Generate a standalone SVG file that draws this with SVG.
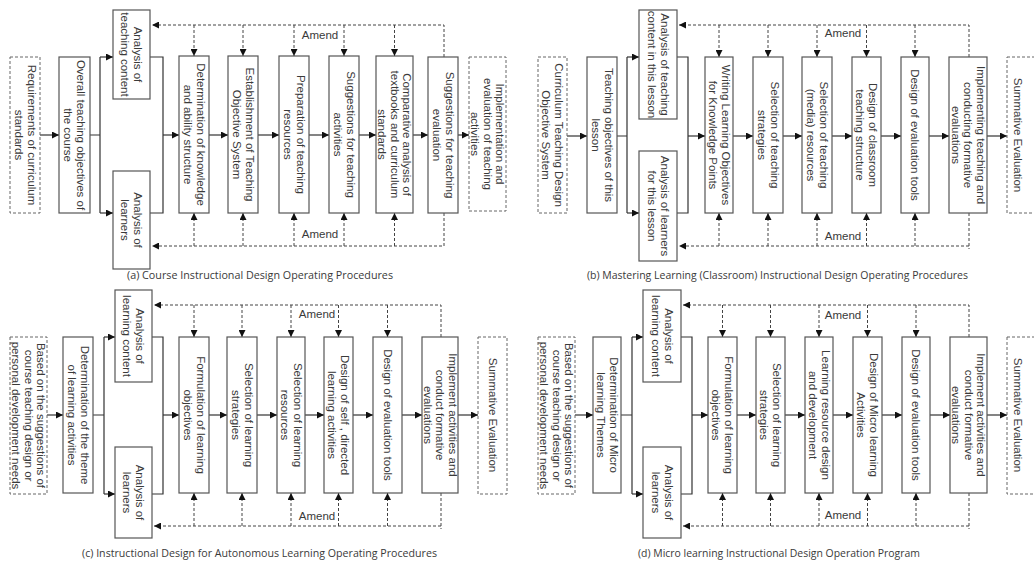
<svg xmlns="http://www.w3.org/2000/svg" width="1034" height="563" viewBox="0 0 1034 563">
  <style>
    .box { fill: #fff; stroke: #555; stroke-width: 1.2; }
    .dbox { fill: #fff; stroke: #666; stroke-width: 1; stroke-dasharray: 3 2; }
    .t { font-family: "Liberation Sans", Arial, sans-serif; font-size: 11.5px; fill: #3a3a3a; text-anchor: middle; }
    .amend { font-family: "Liberation Sans", Arial, sans-serif; font-size: 11.5px; fill: #3a3a3a; text-anchor: middle; }
    .cap { font-family: "Open Sans", "Noto Sans", sans-serif; font-size: 11.5px; fill: #3a3a3a; }
    .solid { fill: none; stroke: #333; stroke-width: 1.2; }
    .dash { fill: none; stroke: #444; stroke-width: 1; stroke-dasharray: 3 2; }
  </style>
  <defs>
    <marker id="ah" viewBox="0 0 8 8" refX="8" refY="4" markerWidth="8" markerHeight="7" markerUnits="userSpaceOnUse" orient="auto">
      <path d="M0,0 L8,4 L0,8 z" fill="#111"/>
    </marker>
  </defs>
  <rect width="1034" height="563" fill="#fff"/>

  <!-- ===== (a) course instructional design ===== -->
  <g id="panel-a">
    <g id="a-connectors">
      <path class="solid" d="M40,135 H59" marker-end="url(#ah)"/>
      <path class="solid" d="M90,135 H100 M100,57 V213"/>
      <path class="solid" d="M100,57 H113" marker-end="url(#ah)"/>
      <path class="solid" d="M100,213 H113" marker-end="url(#ah)"/>
      <path class="solid" d="M150,57 H163 V213 H150"/>
      <path class="solid" d="M163,135 H179" marker-end="url(#ah)"/>
      <path class="solid" d="M209,135 H228" marker-end="url(#ah)"/>
      <path class="solid" d="M258,135 H279" marker-end="url(#ah)"/>
      <path class="solid" d="M309,135 H329" marker-end="url(#ah)"/>
      <path class="solid" d="M359,135 H376" marker-end="url(#ah)"/>
      <path class="solid" d="M413,135 H428" marker-end="url(#ah)"/>
      <path class="solid" d="M458,135 H469" marker-end="url(#ah)"/>
      <path class="dash" d="M444,57 V25 H152" marker-end="url(#ah)"/>
      <path class="dash" d="M194,25 V56" marker-end="url(#ah)"/>
      <path class="dash" d="M243,25 V56" marker-end="url(#ah)"/>
      <path class="dash" d="M294,25 V56" marker-end="url(#ah)"/>
      <path class="dash" d="M344,25 V56" marker-end="url(#ah)"/>
      <path class="dash" d="M394.5,25 V56" marker-end="url(#ah)"/>
      <path class="dash" d="M444,213 V246 H152" marker-end="url(#ah)"/>
      <path class="dash" d="M194,246 V213" marker-end="url(#ah)"/>
      <path class="dash" d="M243,246 V213" marker-end="url(#ah)"/>
      <path class="dash" d="M294,246 V213" marker-end="url(#ah)"/>
      <path class="dash" d="M344,246 V213" marker-end="url(#ah)"/>
      <path class="dash" d="M394.5,246 V213" marker-end="url(#ah)"/>
      <text class="amend" x="320" y="39">Amend</text>
      <text class="amend" x="320" y="238">Amend</text>
    </g>
    <g id="a-requirements">
      <rect class="dbox" x="10" y="57" width="30" height="156"/>
      <text class="t" transform="translate(25 135) rotate(90)"><tspan x="0" y="-2.5">Requirements of curriculum</tspan><tspan x="0" y="10.5">standards</tspan></text>
    </g>
    <g id="a-overall">
      <rect class="box" x="59" y="57" width="31" height="156"/>
      <text class="t" transform="translate(74.5 135) rotate(90)"><tspan x="0" y="-2.5">Overall teaching objectives of</tspan><tspan x="0" y="10.5">the course</tspan></text>
    </g>
    <g id="a-content">
      <rect class="box" x="113" y="10" width="37" height="89"/>
      <text class="t" transform="translate(131.5 54.5) rotate(90)"><tspan x="0" y="-2.5">Analysis of</tspan><tspan x="0" y="10.5">teaching content</tspan></text>
    </g>
    <g id="a-learners">
      <rect class="box" x="113" y="171" width="37" height="98"/>
      <text class="t" transform="translate(131.5 220) rotate(90)"><tspan x="0" y="-2.5">Analysis of</tspan><tspan x="0" y="10.5">learners</tspan></text>
    </g>
    <g id="a-structure">
      <rect class="box" x="179" y="56" width="30" height="157"/>
      <text class="t" transform="translate(194 134.5) rotate(90)"><tspan x="0" y="-2.5">Determination of knowledge</tspan><tspan x="0" y="10.5">and ability structure</tspan></text>
    </g>
    <g id="a-objective-system">
      <rect class="box" x="228" y="56" width="30" height="157"/>
      <text class="t" transform="translate(243 134.5) rotate(90)"><tspan x="0" y="-2.5">Establishment of Teaching</tspan><tspan x="0" y="10.5">Objective System</tspan></text>
    </g>
    <g id="a-resources">
      <rect class="box" x="279" y="56" width="30" height="157"/>
      <text class="t" transform="translate(294 134.5) rotate(90)"><tspan x="0" y="-2.5">Preparation of teaching</tspan><tspan x="0" y="10.5">resources</tspan></text>
    </g>
    <g id="a-activities">
      <rect class="box" x="329" y="56" width="30" height="157"/>
      <text class="t" transform="translate(344 134.5) rotate(90)"><tspan x="0" y="-2.5">Suggestions for teaching</tspan><tspan x="0" y="10.5">activities</tspan></text>
    </g>
    <g id="a-comparative">
      <rect class="box" x="376" y="56" width="37" height="157"/>
      <text class="t" transform="translate(394.5 134.5) rotate(90)"><tspan x="0" y="-8.5">Comparative analysis of</tspan><tspan x="0" y="4">textbooks and curriculum</tspan><tspan x="0" y="16.5">standards</tspan></text>
    </g>
    <g id="a-evaluation">
      <rect class="box" x="428" y="57" width="30" height="156"/>
      <text class="t" transform="translate(443 135) rotate(90)"><tspan x="0" y="-2.5">Suggestions for teaching</tspan><tspan x="0" y="10.5">evaluation</tspan></text>
    </g>
    <g id="a-implementation">
      <rect class="dbox" x="469" y="57" width="37" height="154"/>
      <text class="t" transform="translate(487.5 134) rotate(90)"><tspan x="0" y="-8.5">Implementation and</tspan><tspan x="0" y="4">evaluation of teaching</tspan><tspan x="0" y="16.5">activities</tspan></text>
    </g>
    <text class="cap" x="127" y="279" textLength="266" lengthAdjust="spacingAndGlyphs">(a) Course Instructional Design Operating Procedures</text>
  </g>

  <!-- ===== (b) mastering learning (classroom) ===== -->
  <g id="panel-b">
    <g id="b-connectors">
      <path class="solid" d="M567,136 H587" marker-end="url(#ah)"/>
      <path class="solid" d="M617,136 H627 M627,57 V213"/>
      <path class="solid" d="M627,57 H639" marker-end="url(#ah)"/>
      <path class="solid" d="M627,213 H639" marker-end="url(#ah)"/>
      <path class="solid" d="M677,57 H688 V213 H677"/>
      <path class="solid" d="M688,136 H705" marker-end="url(#ah)"/>
      <path class="solid" d="M733,136 H753" marker-end="url(#ah)"/>
      <path class="solid" d="M783,136 H802" marker-end="url(#ah)"/>
      <path class="solid" d="M832,136 H852" marker-end="url(#ah)"/>
      <path class="solid" d="M881,136 H901" marker-end="url(#ah)"/>
      <path class="solid" d="M929,136 H949" marker-end="url(#ah)"/>
      <path class="solid" d="M987,136 H1007" marker-end="url(#ah)"/>
      <path class="dash" d="M969,57 V25 H679" marker-end="url(#ah)"/>
      <path class="dash" d="M719,25 V57" marker-end="url(#ah)"/>
      <path class="dash" d="M768,25 V57" marker-end="url(#ah)"/>
      <path class="dash" d="M817,25 V57" marker-end="url(#ah)"/>
      <path class="dash" d="M866.5,25 V57" marker-end="url(#ah)"/>
      <path class="dash" d="M915,25 V57" marker-end="url(#ah)"/>
      <path class="dash" d="M969,213 V249 M969,246 H679" marker-end="url(#ah)"/>
      <path class="dash" d="M719,246 V213" marker-end="url(#ah)"/>
      <path class="dash" d="M768,246 V213" marker-end="url(#ah)"/>
      <path class="dash" d="M817,246 V213" marker-end="url(#ah)"/>
      <path class="dash" d="M866.5,246 V213" marker-end="url(#ah)"/>
      <path class="dash" d="M915,246 V213" marker-end="url(#ah)"/>
      <text class="amend" x="843" y="37">Amend</text>
      <text class="amend" x="843" y="240">Amend</text>
    </g>
    <g id="b-curriculum">
      <rect class="dbox" x="538" y="57" width="29" height="156"/>
      <text class="t" transform="translate(552.5 135) rotate(90)"><tspan x="0" y="-2.5">Curriculum Teaching Design</tspan><tspan x="0" y="10.5">Objective System</tspan></text>
    </g>
    <g id="b-lesson-objectives">
      <rect class="box" x="587" y="57" width="30" height="156"/>
      <text class="t" transform="translate(602 135) rotate(90)"><tspan x="0" y="-2.5">Teaching objectives of this</tspan><tspan x="0" y="10.5">lesson</tspan></text>
    </g>
    <g id="b-content">
      <rect class="box" x="639" y="10" width="38" height="109"/>
      <text class="t" transform="translate(658 64.5) rotate(90)"><tspan x="0" y="-2.5">Analysis of teaching</tspan><tspan x="0" y="10.5">content in this lesson</tspan></text>
    </g>
    <g id="b-learners">
      <rect class="box" x="639" y="151" width="38" height="110"/>
      <text class="t" transform="translate(658 206) rotate(90)"><tspan x="0" y="-2.5">Analysis of learners</tspan><tspan x="0" y="10.5">for this lesson</tspan></text>
    </g>
    <g id="b-writing">
      <rect class="box" x="705" y="57" width="28" height="156"/>
      <text class="t" transform="translate(719 135) rotate(90)"><tspan x="0" y="-2.5">Writing Learning Objectives</tspan><tspan x="0" y="10.5">for Knowledge Points</tspan></text>
    </g>
    <g id="b-strategies">
      <rect class="box" x="753" y="57" width="30" height="156"/>
      <text class="t" transform="translate(768 135) rotate(90)"><tspan x="0" y="-2.5">Selection of teaching</tspan><tspan x="0" y="10.5">strategies</tspan></text>
    </g>
    <g id="b-media">
      <rect class="box" x="802" y="57" width="30" height="156"/>
      <text class="t" transform="translate(817 135) rotate(90)"><tspan x="0" y="-2.5">Selection of teaching</tspan><tspan x="0" y="10.5">(media) resources</tspan></text>
    </g>
    <g id="b-structure">
      <rect class="box" x="852" y="57" width="29" height="156"/>
      <text class="t" transform="translate(866.5 135) rotate(90)"><tspan x="0" y="-2.5">Design of classroom</tspan><tspan x="0" y="10.5">teaching structure</tspan></text>
    </g>
    <g id="b-tools">
      <rect class="box" x="901" y="57" width="28" height="156"/>
      <text class="t" transform="translate(915 135) rotate(90)"><tspan x="0" y="4">Design of evaluation tools</tspan></text>
    </g>
    <g id="b-implementing">
      <rect class="box" x="949" y="57" width="38" height="156"/>
      <text class="t" transform="translate(968 135) rotate(90)"><tspan x="0" y="-8.5">Implementing teaching and</tspan><tspan x="0" y="4">conducting formative</tspan><tspan x="0" y="16.5">evaluations</tspan></text>
    </g>
    <g id="b-summative">
      <rect class="dbox" x="1007" y="57" width="32" height="156"/>
      <text class="t" transform="translate(1018 135) rotate(90)"><tspan x="0" y="4">Summative Evaluation</tspan></text>
    </g>
    <text class="cap" x="587" y="279" textLength="381" lengthAdjust="spacingAndGlyphs">(b) Mastering Learning (Classroom) Instructional Design Operating Procedures</text>
  </g>

  <!-- ===== (c) autonomous learning ===== -->
  <g id="panel-c">
    <g id="c-connectors">
      <path class="solid" d="M47,415 H63" marker-end="url(#ah)"/>
      <path class="solid" d="M93,415 H104 M104,337 V494"/>
      <path class="solid" d="M104,337 H115" marker-end="url(#ah)"/>
      <path class="solid" d="M104,494 H115" marker-end="url(#ah)"/>
      <path class="solid" d="M152,337 H163 V494 H152"/>
      <path class="solid" d="M163,415 H179" marker-end="url(#ah)"/>
      <path class="solid" d="M209,415 H227" marker-end="url(#ah)"/>
      <path class="solid" d="M257,415 H277" marker-end="url(#ah)"/>
      <path class="solid" d="M305,415 H324" marker-end="url(#ah)"/>
      <path class="solid" d="M353,415 H373" marker-end="url(#ah)"/>
      <path class="solid" d="M402,415 H422" marker-end="url(#ah)"/>
      <path class="solid" d="M458,415 H478" marker-end="url(#ah)"/>
      <path class="dash" d="M441,337 V305 H154" marker-end="url(#ah)"/>
      <path class="dash" d="M194,305 V337" marker-end="url(#ah)"/>
      <path class="dash" d="M242,305 V337" marker-end="url(#ah)"/>
      <path class="dash" d="M291,305 V337" marker-end="url(#ah)"/>
      <path class="dash" d="M338.5,305 V337" marker-end="url(#ah)"/>
      <path class="dash" d="M387.5,305 V337" marker-end="url(#ah)"/>
      <path class="dash" d="M441,493 V529 M441,526 H154" marker-end="url(#ah)"/>
      <path class="dash" d="M194,526 V493" marker-end="url(#ah)"/>
      <path class="dash" d="M242,526 V493" marker-end="url(#ah)"/>
      <path class="dash" d="M291,526 V493" marker-end="url(#ah)"/>
      <path class="dash" d="M338.5,526 V493" marker-end="url(#ah)"/>
      <path class="dash" d="M387.5,526 V493" marker-end="url(#ah)"/>
      <text class="amend" x="317" y="318">Amend</text>
      <text class="amend" x="317" y="520">Amend</text>
    </g>
    <g id="c-basis">
      <rect class="dbox" x="10" y="337" width="37" height="157"/>
      <text class="t" transform="translate(28.5 415.5) rotate(90)"><tspan x="0" y="-8.5">Based on the suggestions of</tspan><tspan x="0" y="4">course teaching design or</tspan><tspan x="0" y="16.5">personal development needs</tspan></text>
    </g>
    <g id="c-theme">
      <rect class="box" x="63" y="337" width="30" height="156"/>
      <text class="t" transform="translate(78 415) rotate(90)"><tspan x="0" y="-2.5">Determination of the theme</tspan><tspan x="0" y="10.5">of learning activities</tspan></text>
    </g>
    <g id="c-content">
      <rect class="box" x="115" y="290" width="37" height="92"/>
      <text class="t" transform="translate(133.5 336) rotate(90)"><tspan x="0" y="-2.5">Analysis of</tspan><tspan x="0" y="10.5">learning content</tspan></text>
    </g>
    <g id="c-learners">
      <rect class="box" x="115" y="447" width="37" height="91"/>
      <text class="t" transform="translate(133.5 492.5) rotate(90)"><tspan x="0" y="-2.5">Analysis of</tspan><tspan x="0" y="10.5">learners</tspan></text>
    </g>
    <g id="c-objectives">
      <rect class="box" x="179" y="337" width="30" height="156"/>
      <text class="t" transform="translate(194 415) rotate(90)"><tspan x="0" y="-2.5">Formulation of learning</tspan><tspan x="0" y="10.5">objectives</tspan></text>
    </g>
    <g id="c-strategies">
      <rect class="box" x="227" y="337" width="30" height="156"/>
      <text class="t" transform="translate(242 415) rotate(90)"><tspan x="0" y="-2.5">Selection of learning</tspan><tspan x="0" y="10.5">strategies</tspan></text>
    </g>
    <g id="c-resources">
      <rect class="box" x="277" y="337" width="28" height="156"/>
      <text class="t" transform="translate(291 415) rotate(90)"><tspan x="0" y="-2.5">Selection of learning</tspan><tspan x="0" y="10.5">resources</tspan></text>
    </g>
    <g id="c-self-directed">
      <rect class="box" x="324" y="337" width="29" height="156"/>
      <text class="t" transform="translate(338.5 415) rotate(90)"><tspan x="0" y="-2.5">Design of self , directed</tspan><tspan x="0" y="10.5">learning activities</tspan></text>
    </g>
    <g id="c-tools">
      <rect class="box" x="373" y="337" width="29" height="156"/>
      <text class="t" transform="translate(387.5 415) rotate(90)"><tspan x="0" y="4">Design of evaluation tools</tspan></text>
    </g>
    <g id="c-implement">
      <rect class="box" x="422" y="337" width="36" height="156"/>
      <text class="t" transform="translate(440 415) rotate(90)"><tspan x="0" y="-8.5">Implement activities and</tspan><tspan x="0" y="4">conduct formative</tspan><tspan x="0" y="16.5">evaluations</tspan></text>
    </g>
    <g id="c-summative">
      <rect class="dbox" x="478" y="337" width="29" height="157"/>
      <text class="t" transform="translate(492.5 415) rotate(90)"><tspan x="0" y="4">Summative Evaluation</tspan></text>
    </g>
    <text class="cap" x="82" y="557" textLength="355" lengthAdjust="spacingAndGlyphs">(c) Instructional Design for Autonomous Learning Operating Procedures</text>
  </g>

  <!-- ===== (d) micro learning ===== -->
  <g id="panel-d">
    <g id="d-connectors">
      <path class="solid" d="M575,415 H593" marker-end="url(#ah)"/>
      <path class="solid" d="M621,415 H632 M632,337 V494"/>
      <path class="solid" d="M632,337 H643" marker-end="url(#ah)"/>
      <path class="solid" d="M632,494 H643" marker-end="url(#ah)"/>
      <path class="solid" d="M681,337 H692 V494 H681"/>
      <path class="solid" d="M692,415 H708" marker-end="url(#ah)"/>
      <path class="solid" d="M737,415 H756" marker-end="url(#ah)"/>
      <path class="solid" d="M785,415 H805" marker-end="url(#ah)"/>
      <path class="solid" d="M833,415 H853" marker-end="url(#ah)"/>
      <path class="solid" d="M882,415 H902" marker-end="url(#ah)"/>
      <path class="solid" d="M930,415 H950" marker-end="url(#ah)"/>
      <path class="solid" d="M987,415 H1007" marker-end="url(#ah)"/>
      <path class="dash" d="M969,337 V305 H683" marker-end="url(#ah)"/>
      <path class="dash" d="M722.5,305 V337" marker-end="url(#ah)"/>
      <path class="dash" d="M770.5,305 V337" marker-end="url(#ah)"/>
      <path class="dash" d="M819,305 V337" marker-end="url(#ah)"/>
      <path class="dash" d="M867.5,305 V337" marker-end="url(#ah)"/>
      <path class="dash" d="M916,305 V337" marker-end="url(#ah)"/>
      <path class="dash" d="M969,493 V529 M969,526 H683" marker-end="url(#ah)"/>
      <path class="dash" d="M722.5,526 V493" marker-end="url(#ah)"/>
      <path class="dash" d="M770.5,526 V493" marker-end="url(#ah)"/>
      <path class="dash" d="M819,526 V493" marker-end="url(#ah)"/>
      <path class="dash" d="M867.5,526 V493" marker-end="url(#ah)"/>
      <path class="dash" d="M916,526 V493" marker-end="url(#ah)"/>
      <text class="amend" x="843" y="319">Amend</text>
      <text class="amend" x="843" y="519">Amend</text>
    </g>
    <g id="d-basis">
      <rect class="dbox" x="538" y="337" width="37" height="157"/>
      <text class="t" transform="translate(556.5 415.5) rotate(90)"><tspan x="0" y="-8.5">Based on the suggestions of</tspan><tspan x="0" y="4">course teaching design or</tspan><tspan x="0" y="16.5">personal development needs</tspan></text>
    </g>
    <g id="d-themes">
      <rect class="box" x="593" y="337" width="28" height="156"/>
      <text class="t" transform="translate(607 415) rotate(90)"><tspan x="0" y="-2.5">Determination of Micro</tspan><tspan x="0" y="10.5">learning Themes</tspan></text>
    </g>
    <g id="d-content">
      <rect class="box" x="643" y="290" width="38" height="92"/>
      <text class="t" transform="translate(662 336) rotate(90)"><tspan x="0" y="-2.5">Analysis of</tspan><tspan x="0" y="10.5">learning content</tspan></text>
    </g>
    <g id="d-learners">
      <rect class="box" x="643" y="447" width="38" height="91"/>
      <text class="t" transform="translate(662 492.5) rotate(90)"><tspan x="0" y="-2.5">Analysis of</tspan><tspan x="0" y="10.5">learners</tspan></text>
    </g>
    <g id="d-objectives">
      <rect class="box" x="708" y="337" width="29" height="156"/>
      <text class="t" transform="translate(722.5 415) rotate(90)"><tspan x="0" y="-2.5">Formulation of learning</tspan><tspan x="0" y="10.5">objectives</tspan></text>
    </g>
    <g id="d-strategies">
      <rect class="box" x="756" y="337" width="29" height="156"/>
      <text class="t" transform="translate(770.5 415) rotate(90)"><tspan x="0" y="-2.5">Selection of learning</tspan><tspan x="0" y="10.5">strategies</tspan></text>
    </g>
    <g id="d-resources">
      <rect class="box" x="805" y="337" width="28" height="156"/>
      <text class="t" transform="translate(819 415) rotate(90)"><tspan x="0" y="-2.5">Learning resource design</tspan><tspan x="0" y="10.5">and development</tspan></text>
    </g>
    <g id="d-activities">
      <rect class="box" x="853" y="337" width="29" height="156"/>
      <text class="t" transform="translate(867.5 415) rotate(90)"><tspan x="0" y="-2.5">Design of Micro learning</tspan><tspan x="0" y="10.5">Activities</tspan></text>
    </g>
    <g id="d-tools">
      <rect class="box" x="902" y="337" width="28" height="156"/>
      <text class="t" transform="translate(916 415) rotate(90)"><tspan x="0" y="4">Design of evaluation tools</tspan></text>
    </g>
    <g id="d-implement">
      <rect class="box" x="950" y="337" width="37" height="156"/>
      <text class="t" transform="translate(968.5 415) rotate(90)"><tspan x="0" y="-8.5">Implement activities and</tspan><tspan x="0" y="4">conduct formative</tspan><tspan x="0" y="16.5">evaluations</tspan></text>
    </g>
    <g id="d-summative">
      <rect class="dbox" x="1007" y="337" width="32" height="157"/>
      <text class="t" transform="translate(1018 415) rotate(90)"><tspan x="0" y="4">Summative Evaluation</tspan></text>
    </g>
    <text class="cap" x="638" y="557" textLength="282" lengthAdjust="spacingAndGlyphs">(d) Micro learning Instructional Design Operation Program</text>
  </g>
</svg>
